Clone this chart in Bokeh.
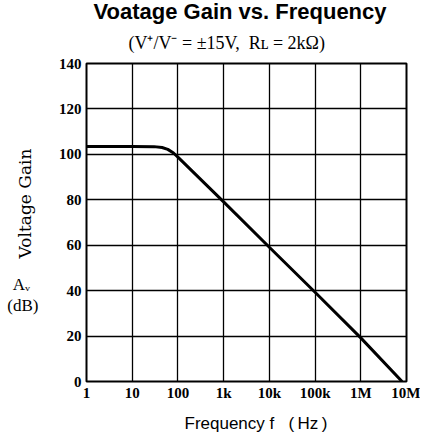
from bokeh.plotting import figure
from bokeh.models import Range1d, FixedTicker, Title, LinearAxis
from bokeh.embed import file_html
from bokeh.resources import INLINE

# ---- data ----
freq_hz = [1, 10, 30, 45, 60, 80, 100, 1e3, 1e4, 1e5, 1e6, 8e6]
gain_db = [103.5, 103.5, 103.4, 103.0, 102.2, 100.6, 98.8, 79.1, 59.1, 39.3, 19.2, 0]

x_ticks = [1, 10, 100, 1000, 10000, 100000, 1000000, 10000000]
x_tick_labels = ["1", "10", "100", "1k", "10k", "100k", "1M", "10M"]
y_ticks = [0, 20, 40, 60, 80, 100, 120, 140]

NB = "\u00a0"
title_text = "Voatage Gain vs. Frequency"
subtitle_text = "(V\u207a/V\u207b" + NB + "=" + NB + "\u00b115V," + NB * 2 + "R\u029f" + NB + "=" + NB + "2k\u03a9)"
xlabel_text = "Frequency" + NB + "f" + NB * 3 + "(\u2009Hz\u2009)"
ylabel_text = "Voltage Gain"
unit_texts = ["A\u1d65" + NB * 2, "(dB)"]

# frame placement (page pixels)
W, H = 420, 440
FL, FT, FR, FB = 86, 63, 406, 381
Y0, Y1 = 0, 140


def py2y(py):
    # page pixel row -> gain value (only used to place the side texts)
    return (FB - py) * (Y1 - Y0) / (FB - FT)


p = figure(width=W, height=H, x_axis_type="log",
           x_range=Range1d(1, 1e7), y_range=Range1d(Y0, Y1),
           output_backend="svg", toolbar_location=None, title=None,
           min_border_left=FL, min_border_right=W - FR,
           min_border_top=FT, min_border_bottom=H - FB)
p.background_fill_color = "white"
p.border_fill_color = "white"
p.outline_line_color = "black"
p.outline_line_width = 2

p.line(freq_hz, gain_db, line_color="black", line_width=3)

# main axes
p.xaxis.ticker = FixedTicker(ticks=x_ticks)
p.xaxis.major_label_overrides = {t: l for t, l in zip(x_ticks, x_tick_labels)}
p.yaxis.ticker = FixedTicker(ticks=y_ticks)


def style_axis(ax, font, size, bold=False):
    ax.axis_line_color = None
    ax.major_tick_line_color = None
    ax.minor_tick_line_color = None
    ax.major_tick_out = 0
    ax.major_tick_in = 0
    ax.major_label_text_font = font
    ax.major_label_text_font_style = "bold" if bold else "normal"
    ax.major_label_text_font_size = size
    ax.major_label_text_color = "black"


for ax in (p.xaxis[0], p.yaxis[0]):
    style_axis(ax, "Liberation Serif", "15px", bold=True)
p.xaxis.major_label_standoff = 3
p.yaxis.major_label_standoff = 5

# side texts on the left: "Voltage Gain" (vertical), "Av" / "(dB)" (horizontal)
ylab_pos = py2y(203)
ax_v = LinearAxis(ticker=FixedTicker(ticks=[ylab_pos]),
                  major_label_overrides={ylab_pos: ylabel_text},
                  major_label_orientation="vertical")
style_axis(ax_v, "DejaVu Serif", "17px")
ax_v.major_label_standoff = 21
p.add_layout(ax_v, "left")

unit_pos = [py2y(284), py2y(304.5)]
ax_u = LinearAxis(ticker=FixedTicker(ticks=unit_pos),
                  major_label_overrides={k: t for k, t in zip(unit_pos, unit_texts)},
                  major_label_orientation="horizontal")
style_axis(ax_u, "Liberation Serif", "17px")
ax_u.major_label_standoff = -27
p.add_layout(ax_u, "left")

# grid
p.xgrid.ticker = FixedTicker(ticks=x_ticks)
p.ygrid.ticker = FixedTicker(ticks=y_ticks)
for g in (p.xgrid, p.ygrid):
    g.grid_line_color = "black"
    g.grid_line_alpha = 1.0
    g.grid_line_width = 1.3

# titles (above: subtitle nearest the frame, then the title)
p.add_layout(Title(text=subtitle_text, align="left", offset=42, standoff=22,
                   text_font="Liberation Serif", text_font_size="18px",
                   text_font_style="normal", text_color="black"), "above")
p.add_layout(Title(text=title_text, align="left", offset=7, standoff=-8,
                   text_font="Liberation Sans", text_font_size="22px",
                   text_font_style="bold", text_color="black"), "above")
# x label below
p.add_layout(Title(text=xlabel_text, align="left", offset=98, standoff=16,
                   text_font="Liberation Sans", text_font_size="17px",
                   text_font_style="normal", text_color="black"), "below")

open("out.html", "w").write(file_html(p, INLINE))
